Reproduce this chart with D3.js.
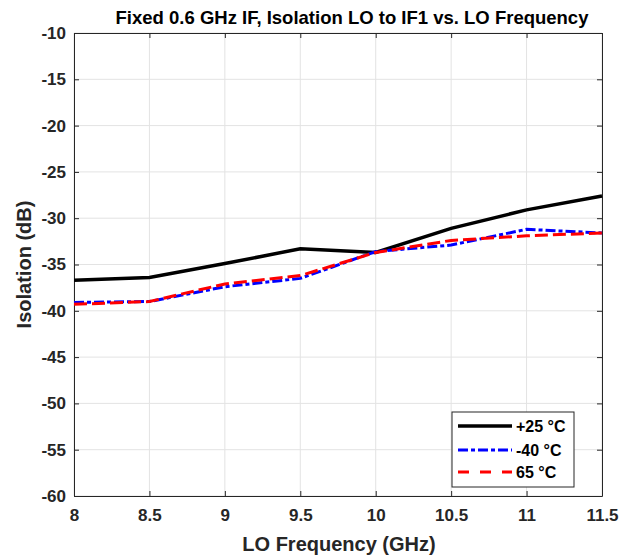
<!DOCTYPE html>
<html>
<head>
<meta charset="utf-8">
<script src="https://cdn.jsdelivr.net/npm/d3@7"></script>
<style>
  body { margin: 0; background: #fff; }
  svg { font-family: "Liberation Sans", Arial, sans-serif; font-weight: bold; }
</style>
</head>
<body>
<div></div>
<script>
// LO frequency (GHz)
let freqs = [8, 8.5, 9, 9.5, 10, 10.5, 11, 11.5]
// isolation per temperature (dB)
let iso25 = [-36.7, -36.4, -34.9, -33.3, -33.7, -31.1, -29.1, -27.6]
let isoM40 = [-39.1, -39.0, -37.4, -36.5, -33.6, -32.9, -31.2, -31.6]
let iso65 = [-39.3, -39.0, -37.1, -36.2, -33.7, -32.4, -31.9, -31.6]

let seriesNames = ["+25 \u00B0C", "-40 \u00B0C", "65 \u00B0C"]
let xTicks = [8, 8.5, 9, 9.5, 10, 10.5, 11, 11.5]
let yTicks = [-10, -15, -20, -25, -30, -35, -40, -45, -50, -55, -60]

let w = 633, h = 557
let padL = 74, padR = 602, padT = 33, padB = 496

let svg = d3.select("div").append("svg").attr("width", w).attr("height", h)

let xScale = d3.scaleLinear().domain([8, 11.5]).range([padL, padR])
let yScale = d3.scaleLinear().domain([-60, -10]).range([padB, padT])

// grid
svg.append("g").selectAll("line").data(xTicks).enter().append("line")
    .attr("x1", d => xScale(d)).attr("x2", d => xScale(d))
    .attr("y1", padT).attr("y2", padB)
    .attr("stroke", "#e3e3e3").attr("stroke-width", 1)
svg.append("g").selectAll("line").data(yTicks).enter().append("line")
    .attr("y1", d => yScale(d)).attr("y2", d => yScale(d))
    .attr("x1", padL).attr("x2", padR)
    .attr("stroke", "#e3e3e3").attr("stroke-width", 1)

// axes with inward ticks
let xAxis = d3.axisBottom(xScale).tickValues(xTicks).tickSizeInner(-5).tickSizeOuter(0).tickPadding(13).tickFormat(d => String(d))
let yAxis = d3.axisLeft(yScale).tickValues(yTicks).tickSizeInner(-5).tickSizeOuter(0).tickPadding(8).tickFormat(d => String(d))
let xTop = d3.axisTop(xScale).tickValues(xTicks).tickSizeInner(-5).tickSizeOuter(0).tickFormat("")
let yRight = d3.axisRight(yScale).tickValues(yTicks).tickSizeInner(-5).tickSizeOuter(0).tickFormat("")

let gx = svg.append("g").attr("transform", "translate(0," + padB + ")").call(xAxis)
let gy = svg.append("g").attr("transform", "translate(" + padL + ",0)").call(yAxis)
svg.append("g").attr("transform", "translate(0," + padT + ")").call(xTop)
svg.append("g").attr("transform", "translate(" + padR + ",0)").call(yRight)

svg.selectAll(".domain, .tick line").attr("stroke", "#262626").attr("stroke-width", 1)
svg.selectAll(".tick text").attr("fill", "#262626").style("font-size", "17px").style("font-family", "Liberation Sans, Arial, sans-serif").style("font-weight", "bold")
gx.selectAll(".tick text").attr("dy", "0.71em")

// data lines
let line = d3.line().x((d, i) => xScale(freqs[i])).y(d => yScale(d))
let styles = [
    { data: iso25, color: "#000000", dash: null, lw: 3.5 },
    { data: isoM40, color: "#0000ff", dash: "10,3,4,3", lw: 3 },
    { data: iso65, color: "#ff0000", dash: "13,5", lw: 3 }
]
// +25 drawn first, then -40, then 65 on top
styles.forEach(s => {
    svg.append("path").datum(s.data)
        .attr("d", line)
        .attr("fill", "none")
        .attr("stroke", s.color)
        .attr("stroke-width", s.lw)
        .attr("stroke-dasharray", s.dash)
})

// legend
let lg = svg.append("g")
lg.append("rect").attr("x", 452).attr("y", 412).attr("width", 122).attr("height", 75)
    .attr("fill", "#fff").attr("stroke", "#262626").attr("stroke-width", 1)
let legendDash = [null, "10,3,4,3", "11,11"]
let rowsY = [426, 450, 472]
seriesNames.forEach((name, i) => {
    lg.append("line").attr("x1", 458).attr("x2", 512).attr("y1", rowsY[i]).attr("y2", rowsY[i])
        .attr("stroke", styles[i].color).attr("stroke-width", styles[i].lw)
        .attr("stroke-dasharray", legendDash[i])
    lg.append("text").attr("x", 516).attr("y", rowsY[i]).attr("dy", "0.36em")
        .style("font-size", "16px").attr("fill", "#000").text(name)
})

// titles
svg.append("text").attr("x", (padL + padR) / 2 + 14).attr("y", 24).attr("text-anchor", "middle")
    .style("font-size", "18.5px").attr("fill", "#000")
    .text("Fixed 0.6 GHz IF, Isolation LO to IF1 vs. LO Frequency")
svg.append("text").attr("x", (padL + padR) / 2 + 1).attr("y", 551).attr("text-anchor", "middle")
    .style("font-size", "20px").attr("fill", "#262626")
    .text("LO Frequency (GHz)")
svg.append("text").attr("transform", "translate(31," + ((padT + padB) / 2) + ") rotate(-90)")
    .attr("text-anchor", "middle")
    .style("font-size", "20px").attr("fill", "#262626")
    .text("Isolation (dB)")
</script>
</body>
</html>
